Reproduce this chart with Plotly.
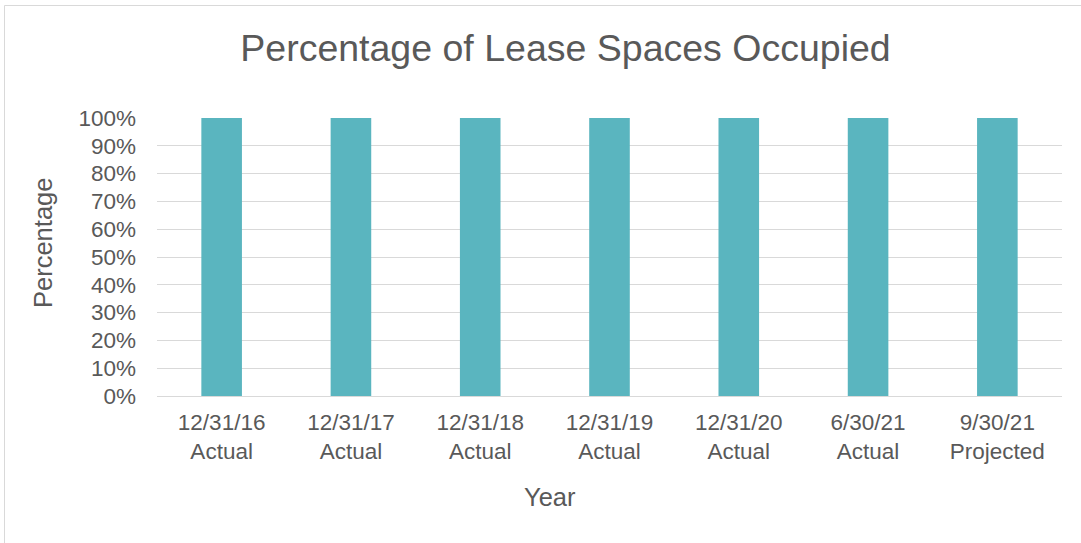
import plotly.graph_objects as go

categories = ["12/31/16<br>Actual", "12/31/17<br>Actual", "12/31/18<br>Actual",
              "12/31/19<br>Actual", "12/31/20<br>Actual", "6/30/21<br>Actual",
              "9/30/21<br>Projected"]
occupied_pct = [100, 100, 100, 100, 100, 100, 100]
y_ticks = [0, 10, 20, 30, 40, 50, 60, 70, 80, 90, 100]
y_tick_labels = [f"{v}%" for v in y_ticks]

W, H = 1081, 543
L, R, T, B = 157, 19, 118, 147
pw, ph = W - L - R, H - T - B

FONT = "Liberation Sans, Arial, sans-serif"
TXT = "#595959"
GRID = "#D9D9D9"

fig = go.Figure(go.Bar(
    x=categories, y=occupied_pct,
    marker=dict(color="#5AB5BF", line=dict(width=0)),
    width=0.314,
))

def px_x(p):
    return (p - L) / pw

def px_y(p):
    return (H - B - p) / ph

fig.update_layout(
    width=W, height=H,
    margin=dict(l=L, r=R, t=T, b=B),
    paper_bgcolor="white", plot_bgcolor="white",
    font=dict(family=FONT, color=TXT, size=22),
    showlegend=False,
    title=dict(text="Percentage of Lease Spaces Occupied",
               font=dict(size=37.5, color=TXT, family=FONT),
               x=565.5 / W, xref="container", xanchor="center",
               y=1 - 48 / H, yref="container", yanchor="middle"),
    xaxis=dict(showgrid=False, showline=True, linecolor=GRID, linewidth=1,
               ticks="", tickfont=dict(size=22.5, color=TXT),
               ticklabelstandoff=6),
    yaxis=dict(range=[0, 100], tickvals=y_ticks, ticktext=y_tick_labels,
               showgrid=True, gridcolor=GRID, gridwidth=1, zeroline=False,
               showline=False, ticks="", tickfont=dict(size=22.5, color=TXT),
               ticklabelstandoff=20),
    annotations=[
        dict(text="Year", xref="paper", yref="paper", x=px_x(550), y=px_y(497),
             xanchor="center", yanchor="middle", showarrow=False,
             font=dict(size=25.5, color=TXT, family=FONT)),
        dict(text="Percentage", xref="paper", yref="paper", x=px_x(43), y=px_y(243),
             xanchor="center", yanchor="middle", showarrow=False, textangle=-90,
             font=dict(size=25.5, color=TXT, family=FONT)),
    ],
    shapes=[dict(type="rect", xref="paper", yref="paper",
                 x0=px_x(4.5), x1=px_x(1090), y0=px_y(560), y1=px_y(5.5),
                 line=dict(color=GRID, width=1), fillcolor="rgba(0,0,0,0)",
                 layer="below")],
)

fig.write_html("out.html", config={"displayModeBar": False},
               post_script="document.body.style.margin='0';document.body.style.overflow='hidden';")
